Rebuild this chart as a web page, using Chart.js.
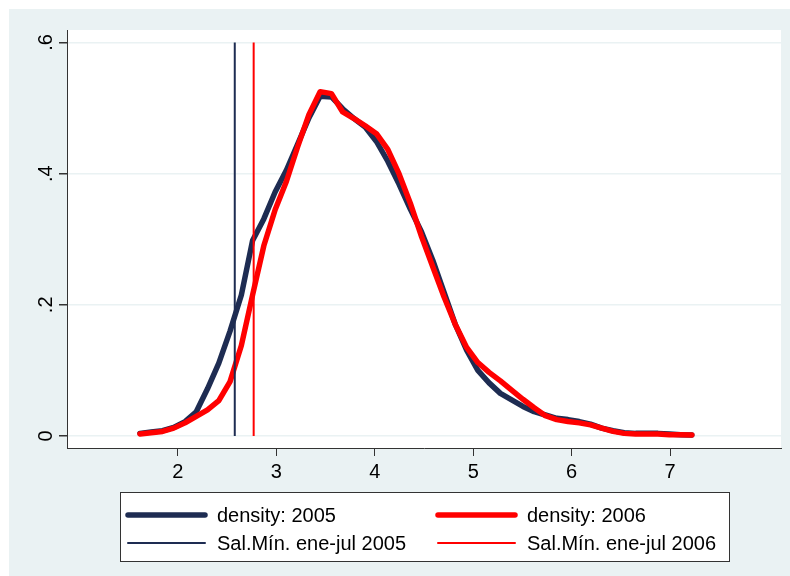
<!DOCTYPE html>
<html>
<head>
<meta charset="utf-8">
<script src="https://cdn.jsdelivr.net/npm/chart.js@4.4.1/dist/chart.umd.min.js"></script>
<style>
  body { margin: 0; background: #fff; }
  canvas { display: block; }
</style>
</head>
<body>
<canvas id="myChart" width="790" height="576"></canvas>
<script>
// kdensity evaluation points (log wage)
const xPoints = [1.615, 1.729, 1.844, 1.958, 2.073, 2.187, 2.301, 2.416, 2.530, 2.645,
    2.759, 2.873, 2.988, 3.102, 3.217, 3.331, 3.445, 3.560, 3.674, 3.789,
    3.903, 4.017, 4.132, 4.246, 4.361, 4.475, 4.589, 4.704, 4.818, 4.933,
    5.047, 5.161, 5.276, 5.390, 5.505, 5.619, 5.733, 5.848, 5.962, 6.077,
    6.191, 6.305, 6.420, 6.534, 6.649, 6.763, 6.877, 6.992, 7.106, 7.220];

const density2005 = [0.004, 0.006, 0.008, 0.013, 0.022, 0.037, 0.072, 0.111, 0.160, 0.215,
    0.298, 0.331, 0.372, 0.405, 0.445, 0.485, 0.518, 0.517, 0.499, 0.484,
    0.471, 0.449, 0.419, 0.384, 0.346, 0.311, 0.268, 0.219, 0.170, 0.131,
    0.100, 0.081, 0.065, 0.055, 0.045, 0.037, 0.032, 0.027, 0.025, 0.022,
    0.018, 0.012, 0.008, 0.005, 0.004, 0.004, 0.004, 0.003, 0.002, 0.0015];

const density2006 = [0.003, 0.005, 0.007, 0.012, 0.020, 0.030, 0.040, 0.054, 0.083, 0.138,
    0.215, 0.290, 0.345, 0.388, 0.441, 0.490, 0.525, 0.522, 0.494, 0.484,
    0.473, 0.461, 0.437, 0.400, 0.355, 0.304, 0.258, 0.212, 0.170, 0.135,
    0.112, 0.097, 0.084, 0.070, 0.056, 0.043, 0.031, 0.025, 0.022, 0.020,
    0.017, 0.012, 0.007, 0.004, 0.003, 0.003, 0.003, 0.002, 0.002, 0.0015];

// minimum wage reference lines
const minWage2005 = 2.578;
const minWage2006 = 2.770;
const vlineSpan = [0, 0.6];

const seriesLabels = ['density: 2005', 'density: 2006', 'Sal.Mín. ene-jul 2005', 'Sal.Mín. ene-jul 2006'];
const xTicks = [2, 3, 4, 5, 6, 7];
const yTicks = [0, 0.2, 0.4, 0.6];
const yTickLabels = ['0', '.2', '.4', '.6'];

const NAVY = '#1e2c52';
const RED = '#ff0000';
const BG = '#eaf2f3';
const FONT = 'Liberation Sans';

const toPoints = (xs, ys) => xs.map((x, i) => ({ x: x, y: ys[i] }));

const bgPlugin = {
    id: 'bg',
    beforeDraw(chart) {
        const c = chart.ctx;
        const a = chart.chartArea;
        c.save();
        c.fillStyle = '#fff';
        c.fillRect(0, 0, chart.width, chart.height);
        c.fillStyle = BG;
        c.fillRect(9, 9, chart.width - 9, chart.height - 9);
        c.fillStyle = '#fff';
        c.fillRect(a.left, a.top, a.right - a.left, a.bottom - a.top);
        c.restore();
    }
};

// stata-style boxed legend, two columns
const legendPlugin = {
    id: 'boxLegend',
    afterDraw(chart) {
        const c = chart.ctx;
        c.save();
        c.fillStyle = '#fff';
        c.fillRect(120.5, 492.5, 609, 69);
        c.strokeStyle = '#333';
        c.lineWidth = 1;
        c.strokeRect(120.5, 492.5, 609, 69);
        const cols = [128, 438];
        const rows = [515, 543];
        chart.data.datasets.forEach((ds, i) => {
            const x = cols[i % 2];
            const y = rows[Math.floor(i / 2)];
            c.strokeStyle = ds.borderColor;
            c.lineWidth = ds.borderWidth;
            c.lineCap = 'round';
            c.beginPath();
            c.moveTo(x, y);
            c.lineTo(x + 77, y);
            c.stroke();
            c.fillStyle = '#000';
            c.font = `20px "${FONT}"`;
            c.textBaseline = 'middle';
            c.fillText(ds.label, x + 89, y + 1);
        });
        c.restore();
    }
};

const ctx = document.getElementById('myChart').getContext('2d');

const chart = new Chart(ctx, {
    type: 'line',
    data: {
        datasets: [
            {
                label: seriesLabels[0],
                data: toPoints(xPoints, density2005),
                borderColor: NAVY,
                borderWidth: 5.5,
                order: 3
            },
            {
                label: seriesLabels[1],
                data: toPoints(xPoints, density2006),
                borderColor: RED,
                borderWidth: 5.5,
                order: 2
            },
            {
                label: seriesLabels[2],
                data: vlineSpan.map(y => ({ x: minWage2005, y: y })),
                borderColor: NAVY,
                borderWidth: 2,
                borderCapStyle: 'butt',
                order: 1
            },
            {
                label: seriesLabels[3],
                data: vlineSpan.map(y => ({ x: minWage2006, y: y })),
                borderColor: RED,
                borderWidth: 2,
                borderCapStyle: 'butt',
                order: 0
            }
        ]
    },
    options: {
        responsive: false,
        animation: false,
        devicePixelRatio: 1,
        layout: {
            padding: { left: 9, right: 9, top: 30, bottom: 88 }
        },
        elements: {
            point: { radius: 0 },
            line: { tension: 0, borderCapStyle: 'round', borderJoinStyle: 'round', fill: false }
        },
        scales: {
            x: {
                type: 'linear',
                min: 0.874,
                max: 8.126,
                afterBuildTicks: s => { s.ticks = xTicks.map(v => ({ value: v })); },
                afterFit: s => { s.height = 40; },
                ticks: {
                    color: '#000',
                    font: { family: FONT, size: 20 },
                    padding: 4,
                    maxRotation: 0,
                    autoSkip: false
                },
                grid: {
                    drawOnChartArea: false,
                    drawTicks: true,
                    tickLength: 8,
                    tickColor: '#333'
                },
                border: { display: true, color: '#333', width: 1 }
            },
            y: {
                type: 'linear',
                min: -0.0183,
                max: 0.619,
                afterBuildTicks: s => { s.ticks = yTicks.map(v => ({ value: v })); },
                afterFit: s => { s.width = 58; },
                ticks: {
                    color: '#000',
                    font: { family: FONT, size: 20 },
                    padding: 4,
                    minRotation: 90,
                    maxRotation: 90,
                    crossAlign: 'center',
                    autoSkip: false,
                    callback: (v, i) => yTickLabels[i]
                },
                grid: {
                    color: BG,
                    lineWidth: 1.5,
                    tickLength: 8,
                    tickColor: '#333'
                },
                border: { display: true, color: '#333', width: 1 }
            }
        },
        plugins: {
            legend: { display: false },
            tooltip: { enabled: false }
        }
    },
    plugins: [bgPlugin, legendPlugin]
});
</script>
</body>
</html>
